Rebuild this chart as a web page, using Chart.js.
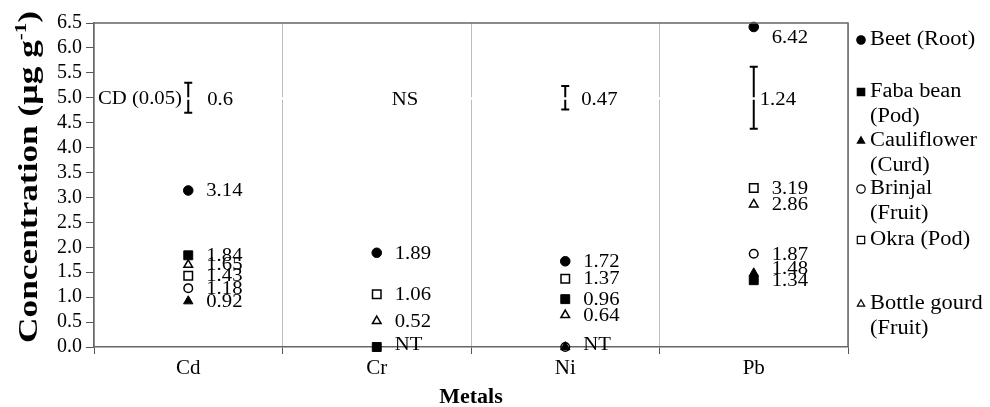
<!DOCTYPE html>
<html lang="en">

<head>
    <script src="https://cdn.jsdelivr.net/npm/chart.js"></script>
    <meta charset="UTF-8">
    <title>Heavy metals in vegetables</title>
    <style>
        html, body {
            margin: 0;
            padding: 0;
            background: #fff;
        }

        canvas {
            display: block;
        }
    </style>
</head>

<body>
    <canvas id="metalChart" width="990" height="407"></canvas>

    <script>
        const metals = ['Cd', 'Cr', 'Ni', 'Pb'];

        // concentration in µg g-1; 0 = NT (not traceable), null = no point
        const beetRoot = [3.14, 1.89, 1.72, 6.42];
        const fabaBeanPod = [1.84, 0, 0.96, 1.34];
        const cauliflowerCurd = [0.92, null, 0, 1.48];
        const brinjalFruit = [1.18, null, 0, 1.87];
        const okraPod = [1.43, 1.06, 1.37, 3.19];
        const bottleGourdFruit = [1.65, 0.52, 0.64, 2.86];

        // CD (0.05) for each metal, null = NS
        const cdValues = [0.6, null, 0.47, 1.24];
        const cdCentre = 5.0;

        const legendLines = [
            ['Beet (Root)'],
            ['Faba bean', '(Pod)'],
            ['Cauliflower', '(Curd)'],
            ['Brinjal', '(Fruit)'],
            ['Okra (Pod)'],
            ['Bottle gourd', '(Fruit)']
        ];

        // marker look per series
        const markers = [
            { style: 'circle', filled: true, radius: 4.8 },
            { style: 'rect', filled: true, radius: 6.3 },
            { style: 'triangle', filled: true, radius: 5.4 },
            { style: 'circle', filled: false, radius: 4.3 },
            { style: 'rect', filled: false, radius: 6 },
            { style: 'triangle', filled: false, radius: 5 }
        ];

        const serif = '"Liberation Serif", "Times New Roman", serif';
        const legendY = [40, 92, 141, 189, 240, 304];
        const cdLabelDx = [19, 15, 16, 6];
        const labelNudge = { '0-3': 11, '2-3': -4 };

        const seriesData = [beetRoot, fabaBeanPod, cauliflowerCurd, brinjalFruit, okraPod, bottleGourdFruit];

        // text drawn a little wider than the font, like the rest of the figure
        function wideText(ctx, text, x, y, sx) {
            ctx.save();
            ctx.translate(x, y);
            ctx.scale(sx, 1);
            ctx.fillText(text, 0, 0);
            ctx.restore();
        }

        function drawMarker(ctx, m, x, y, r) {
            ctx.beginPath();
            if (m.style === 'circle') {
                ctx.arc(x, y, r, 0, Math.PI * 2);
            } else if (m.style === 'rect') {
                ctx.rect(x - r, y - r, 2 * r, 2 * r);
            } else {
                ctx.moveTo(x, y - r);
                ctx.lineTo(x + r * 0.866, y + r / 2);
                ctx.lineTo(x - r * 0.866, y + r / 2);
                ctx.closePath();
            }
            ctx.fillStyle = m.filled ? '#000' : '#fff';
            ctx.fill();
            ctx.lineWidth = 1.2;
            ctx.strokeStyle = '#000';
            ctx.stroke();
        }

        const annotate = {
            id: 'annotate',
            afterDatasetsDraw(chart) {
                const { ctx, chartArea: a, scales: { x, y } } = chart;
                ctx.save();

                // CD error bars
                ctx.strokeStyle = '#000';
                ctx.lineWidth = 2;
                cdValues.forEach((v, i) => {
                    if (v === null) return;
                    const cx = x.getPixelForValue(i);
                    const top = y.getPixelForValue(cdCentre + v / 2);
                    const bot = y.getPixelForValue(cdCentre - v / 2);
                    ctx.beginPath();
                    ctx.moveTo(cx, top); ctx.lineTo(cx, bot);
                    ctx.moveTo(cx - 4, top); ctx.lineTo(cx + 4, top);
                    ctx.moveTo(cx - 4, bot); ctx.lineTo(cx + 4, bot);
                    ctx.stroke();
                });

                // thin white strip along the CD row
                const yc = y.getPixelForValue(cdCentre);
                ctx.fillStyle = '#fff';
                ctx.fillRect(a.left + 1, yc - 0.5, a.right - a.left - 2, 2.5);

                // top and right frame
                ctx.strokeStyle = '#666';
                ctx.lineWidth = 1.5;
                ctx.beginPath();
                ctx.moveTo(a.left, a.top);
                ctx.lineTo(a.right, a.top);
                ctx.lineTo(a.right, a.bottom);
                ctx.stroke();

                ctx.fillStyle = '#000';
                ctx.font = '18px ' + serif;
                ctx.textBaseline = 'middle';
                ctx.textAlign = 'left';
                wideText(ctx, 'CD (0.05)', a.left + 4, yc + 1, 1.15);
                cdValues.forEach((v, i) => {
                    const cx = x.getPixelForValue(i);
                    wideText(ctx, v === null ? 'NS' : String(v), cx + cdLabelDx[i], yc + 2, 1.15);
                });

                // value labels beside the points
                const done = new Set();
                chart.data.datasets.forEach((ds, di) => {
                    ds.data.forEach((v, i) => {
                        if (v === null) return;
                        const key = i + ':' + v;
                        if (done.has(key)) return;
                        done.add(key);
                        const px = x.getPixelForValue(i);
                        const py = y.getPixelForValue(v);
                        const dy = labelNudge[di + '-' + i] ?? (v === 0 ? -2 : 1);
                        wideText(ctx, v === 0 ? 'NT' : v.toFixed(2), px + 18, py + dy, 1.15);
                    });
                });
                ctx.restore();
            },
            afterDraw(chart) {
                const { ctx } = chart;
                ctx.save();

                // legend
                ctx.font = '20px ' + serif;
                ctx.textBaseline = 'middle';
                ctx.textAlign = 'left';
                legendLines.forEach((lines, i) => {
                    const m = markers[i];
                    drawMarker(ctx, m, 861, legendY[i], m.style === 'rect' ? 3.7 : 4.2);
                    ctx.fillStyle = '#000';
                    lines.forEach((t, k) => wideText(ctx, t, 870, legendY[i] + k * 25, 1.12));
                });

                // y axis title with superscript
                ctx.translate(37, 177);
                ctx.rotate(-Math.PI / 2);
                const big = 'bold 27px ' + serif;
                const small = 'bold 16px ' + serif;
                ctx.font = big;
                const w1 = ctx.measureText('Concentration (µg g').width;
                const w3 = ctx.measureText(')').width;
                ctx.font = small;
                const w2 = ctx.measureText('-1').width;
                const total = w1 + w2 + w3;
                ctx.scale(332 / total, 1);
                ctx.textBaseline = 'alphabetic';
                ctx.fillStyle = '#000';
                const x0 = -total / 2;
                ctx.font = big;
                ctx.fillText('Concentration (µg g', x0, 0);
                ctx.font = small;
                ctx.fillText('-1', x0 + w1, -11);
                ctx.font = big;
                ctx.fillText(')', x0 + w1 + w2, 0);
                ctx.restore();
            }
        };

        new Chart(document.getElementById('metalChart'), {
            type: 'line',
            data: {
                labels: metals,
                datasets: seriesData.map((d, i) => ({
                    label: legendLines[i].join(' '),
                    data: d,
                    showLine: false,
                    clip: false,
                    pointStyle: markers[i].style,
                    pointRadius: markers[i].radius,
                    pointHoverRadius: markers[i].radius,
                    pointBackgroundColor: markers[i].filled ? '#000' : '#fff',
                    pointBorderColor: '#000',
                    pointBorderWidth: markers[i].filled ? 1 : 1.5
                }))
            },
            options: {
                responsive: false,
                animation: false,
                layout: { padding: { left: 0, right: 142, top: 23, bottom: 0 } },
                font: { family: serif },
                scales: {
                    x: {
                        offset: true,
                        grid: { offset: true, color: '#bdbdbd', tickColor: '#555', tickLength: 7 },
                        border: { color: '#666', width: 1.5 },
                        ticks: { color: '#000', padding: 2, font: { family: serif, size: 21 } },
                        title: {
                            display: true, text: 'Metals', color: '#000',
                            font: { family: serif, size: 22, weight: 'bold', lineHeight: 0.85 },
                            padding: { top: 10, bottom: 0 }
                        },
                        afterFit: s => { s.height = 60; }
                    },
                    y: {
                        min: 0,
                        max: 6.5,
                        grid: { drawOnChartArea: false, color: '#555', tickLength: 8 },
                        border: { color: '#666', width: 1.5 },
                        ticks: {
                            stepSize: 0.5, autoSkip: false, color: '#000', padding: 4,
                            font: { family: serif, size: 20 },
                            callback: v => v.toFixed(1)
                        },
                        afterFit: s => { s.width = 94; }
                    }
                },
                plugins: {
                    legend: { display: false },
                    tooltip: { enabled: false }
                }
            },
            plugins: [annotate]
        });
    </script>
</body>

</html>
